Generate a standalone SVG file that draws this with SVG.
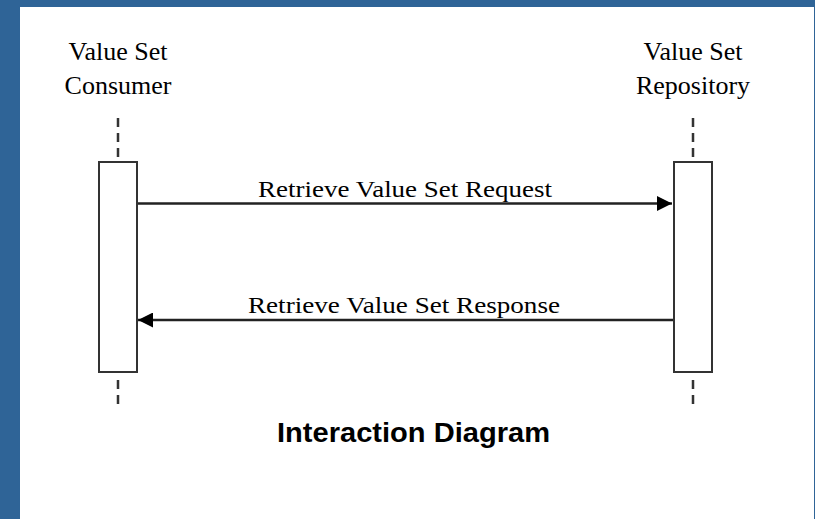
<svg xmlns="http://www.w3.org/2000/svg" width="815" height="519" viewBox="0 0 815 519">
<style>
.lbl{font-family:"Liberation Serif","Times New Roman",serif;font-size:26px;fill:#000;text-anchor:middle}
.msg{font-family:"Liberation Serif","Times New Roman",serif;font-size:24px;fill:#000;text-anchor:middle}
.life{stroke:#333;stroke-width:2.5;stroke-dasharray:9,6;fill:none}
.act{fill:#fff;stroke:#333;stroke-width:2}
.arr{stroke:#222;stroke-width:2.5;fill:none}
</style>
<defs>
<marker id="ah" viewBox="0 0 15 15" refX="15" refY="7.5" markerWidth="15" markerHeight="15" markerUnits="userSpaceOnUse" orient="auto">
<path d="M0,0 L15,7.5 L0,15 Z" fill="#000"/>
</marker>
</defs>
<rect x="0" y="0" width="815" height="519" fill="#2F6497"/>
<rect x="20" y="7" width="794" height="512" fill="#fff"/>
<g id="consumer">
<text class="lbl" x="118" y="60">Value Set</text>
<text class="lbl" x="118" y="94">Consumer</text>
<line class="life" x1="118" y1="118" x2="118" y2="161"/>
<rect class="act" x="99" y="162" width="38" height="210"/>
<line class="life" x1="118" y1="380" x2="118" y2="404"/>
</g>
<g id="repository">
<text class="lbl" x="693" y="60">Value Set</text>
<text class="lbl" x="693" y="94">Repository</text>
<line class="life" x1="693" y1="118" x2="693" y2="161"/>
<rect class="act" x="674" y="162" width="38" height="210"/>
<line class="life" x1="693" y1="380" x2="693" y2="404"/>
</g>
<g id="connectors">
<line class="arr" x1="138" y1="203.5" x2="672" y2="203.5" marker-end="url(#ah)"/>
<text class="msg" x="405" y="197" textLength="294" lengthAdjust="spacingAndGlyphs">Retrieve Value Set Request</text>
<line class="arr" x1="673" y1="320" x2="138" y2="320" marker-end="url(#ah)"/>
<text class="msg" x="404" y="313" textLength="312" lengthAdjust="spacingAndGlyphs">Retrieve Value Set Response</text>
</g>
<g id="title">
<text x="413.5" y="442" font-family="Liberation Sans,Arial,sans-serif" font-weight="bold" font-size="28.5" text-anchor="middle" fill="#000" textLength="273" lengthAdjust="spacingAndGlyphs">Interaction Diagram</text>
</g>
</svg>
